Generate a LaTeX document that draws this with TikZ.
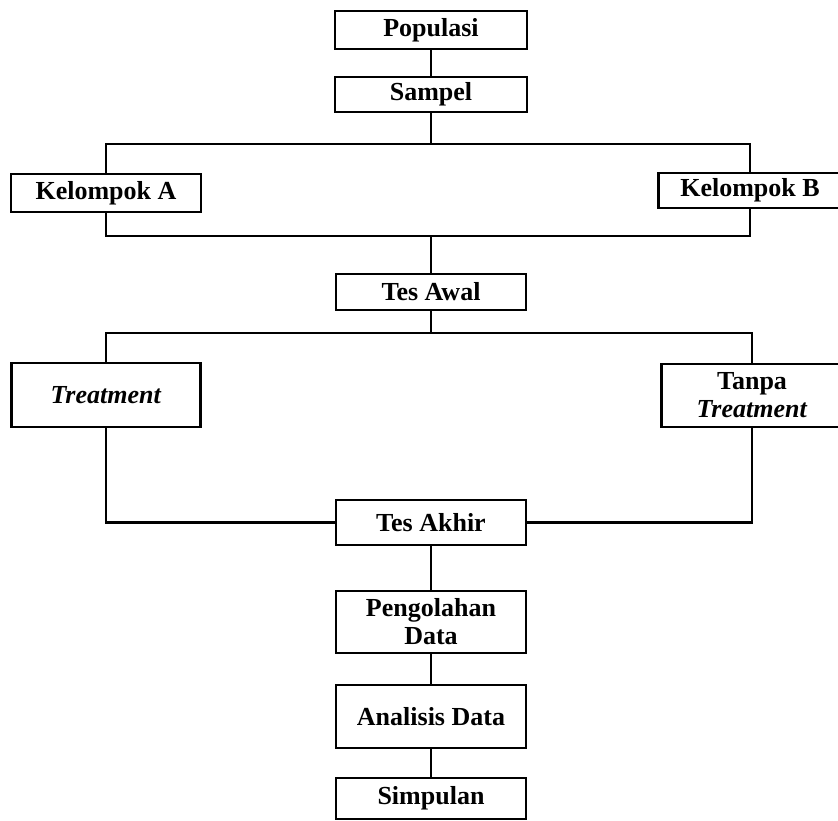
\documentclass[tikz,border=0pt]{standalone}
\usepackage{fontspec}
\setmainfont{Liberation Serif}
\begin{document}
\begin{tikzpicture}[x=1pt,y=-1pt,line width=2.2pt,
  kotak/.style={draw,rectangle,inner sep=0pt,align=center,
    font=\fontsize{26}{28}\selectfont\bfseries}]
\useasboundingbox (0,0) rectangle (838,820);
\node[kotak,minimum width=192,minimum height=38] (pop) at (431,30) {Populasi};
\node[kotak,minimum width=192,minimum height=35] (sam) at (431,94.5) {Sampel};
\node[kotak,minimum width=190,minimum height=38] (kA) at (106,193) {Kelompok A};
\node[kotak,minimum width=183,minimum height=35] (kB) at (750,190.5) {Kelompok B};
\node[kotak,minimum width=190,minimum height=36] (awal) at (431,292) {Tes Awal};
\node[kotak,minimum width=189,minimum height=64] (treat) at (106,395) {\textit{Treatment}};
\node[kotak,minimum width=181,minimum height=63] (tanpa) at (752,395.5) {Tanpa\\\textit{Treatment}};
\node[kotak,minimum width=190,minimum height=45] (akhir) at (431,522.5) {Tes Akhir};
\node[kotak,minimum width=190,minimum height=62] (olah) at (431,622) {Pengolahan\\Data};
\node[kotak,minimum width=190,minimum height=63] (anal) at (431,716.5) {Analisis Data};
\node[kotak,minimum width=190,minimum height=41] (simp) at (431,798.5) {Simpulan};
\coordinate (j1) at (431,144);
\coordinate (j2) at (431,236);
\coordinate (j3) at (431,333);
\draw (pop) -- (sam);
\draw (sam) -- (j1);
\draw (kA.north) |- (j1) -| (kB.north);
\draw (kA.south) |- (j2) -| (kB.south);
\draw (j2) -- (awal);
\draw (awal) -- (j3);
\draw (treat.north) |- (j3) -| (tanpa.north);
\draw (treat.south) |- (akhir.west);
\draw (tanpa.south) |- (akhir.east);
\draw (akhir) -- (olah);
\draw (olah) -- (anal);
\draw (anal) -- (simp);
\end{tikzpicture}
\end{document}
